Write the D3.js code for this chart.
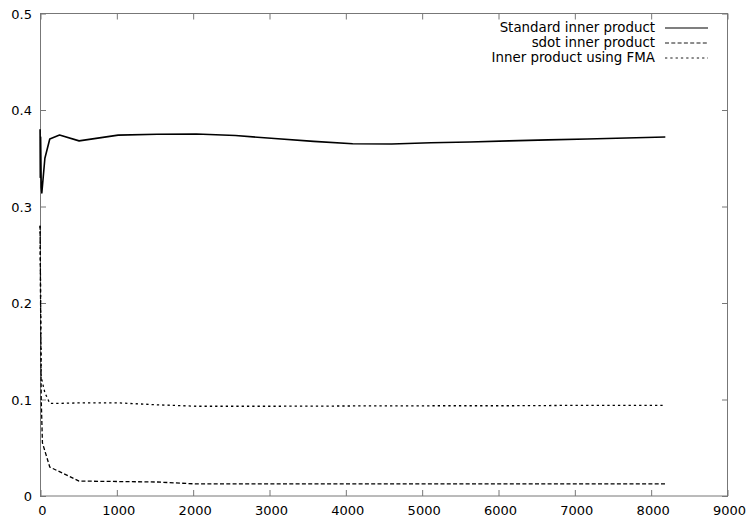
<!DOCTYPE html>
<html>
<head>
<meta charset="utf-8">
<script src="https://cdn.jsdelivr.net/npm/d3@7"></script>
<style>
  html, body { margin: 0; padding: 0; background: #fff; }
  svg { display: block; }
  text { font-family: "DejaVu Sans", "Liberation Sans", sans-serif; font-size: 13px; fill: #000; }
  .legend text { font-size: 13.4px; }
</style>
</head>
<body>
<svg></svg>
<script>
// vector length n vs. error, three inner product variants
const seriesNames = ["Standard inner product", "sdot inner product", "Inner product using FMA"];

const standardN = [1, 4, 8, 16, 24, 64, 128, 256, 512, 1024, 1536, 2048, 2560, 3072, 3584, 4096, 4608, 5120, 5632, 6144, 6656, 7168, 7680, 8192];
const standardV = [0.380, 0.330, 0.372, 0.320, 0.314, 0.350, 0.370, 0.374, 0.368, 0.374, 0.3748, 0.3751, 0.3735, 0.3705, 0.3675, 0.3650, 0.3648, 0.3660, 0.3668, 0.3680, 0.3690, 0.3700, 0.3710, 0.3720];

const sdotN = [1, 16, 32, 128, 512, 1024, 1536, 2048, 3072, 4096, 5120, 6144, 7168, 8192];
const sdotV = [0.280, 0.100, 0.055, 0.030, 0.0155, 0.015, 0.0145, 0.0125, 0.0125, 0.0125, 0.0125, 0.0125, 0.0125, 0.0125];

const fmaN = [1, 16, 64, 128, 256, 512, 1024, 1536, 2048, 3072, 4096, 5120, 6144, 7168, 8192];
const fmaV = [0.280, 0.123, 0.107, 0.096, 0.096, 0.0965, 0.0965, 0.0945, 0.0930, 0.0930, 0.0933, 0.0935, 0.0935, 0.0940, 0.0940];

const xTicks = [0, 1000, 2000, 3000, 4000, 5000, 6000, 7000, 8000, 9000];
const yTicks = [0, 0.1, 0.2, 0.3, 0.4, 0.5];

(function (d3) {
    const width = 748, height = 523;
    const mLeft = 40, mRight = 727, mTop = 13.5, mBottom = 496;

    const svg = d3.select('svg').attr('width', width).attr('height', height);

    const x = d3.scaleLinear().domain([0, 9000]).range([mLeft, mRight]);
    const y = d3.scaleLinear().domain([0, 0.5]).range([mBottom, mTop]);

    const axisColor = "#777";

    // frame
    svg.append("rect")
        .attr("x", mLeft + 0.5).attr("y", mTop)
        .attr("width", mRight - mLeft).attr("height", mBottom - mTop)
        .attr("fill", "none").attr("stroke", axisColor);

    function tickAxis(axis, tx, labels) {
        const g = svg.append("g").attr("transform", tx).call(axis);
        g.select(".domain").remove();
        g.attr("font-family", null).attr("font-size", null);
        g.selectAll(".tick line").attr("stroke", axisColor);
        if (!labels) g.selectAll(".tick text").remove();
        return g;
    }

    const gx = tickAxis(d3.axisBottom(x).tickValues(xTicks).tickSize(-6).tickFormat(d3.format("d")),
        `translate(0.5,${mBottom})`, true);
    gx.selectAll(".tick text").attr("y", 19).attr("dy", null).attr("dx", 1.5);
    tickAxis(d3.axisTop(x).tickValues(xTicks).tickSize(-6), `translate(0.5,${mTop})`, false);

    const gy = tickAxis(d3.axisLeft(y).tickValues(yTicks).tickSize(-6)
        .tickFormat(d => d === 0 ? "0" : d3.format(".1f")(d)),
        `translate(${mLeft},0)`, true);
    gy.selectAll(".tick text").attr("x", -8).attr("dy", "0.38em");
    tickAxis(d3.axisRight(y).tickValues(yTicks).tickSize(-6), `translate(${mRight + 1},0)`, false);

    // series
    const line = d3.line().x(d => x(d[0])).y(d => y(d[1]));
    const series = [
        { name: seriesNames[0], data: d3.zip(standardN, standardV), dash: null, w: 1.6 },
        { name: seriesNames[1], data: d3.zip(sdotN, sdotV), dash: "4,2.3", w: 1.3 },
        { name: seriesNames[2], data: d3.zip(fmaN, fmaV), dash: "2.3,3", w: 1.3 }
    ];

    svg.append("g").selectAll("path")
        .data(series)
        .join("path")
        .attr("d", d => line(d.data))
        .attr("fill", "none")
        .attr("stroke", "#000")
        .attr("stroke-width", d => d.w)
        .attr("stroke-dasharray", d => d.dash)
        .attr("stroke-linejoin", "round");

    // legend
    const legend = svg.append("g").attr("class", "legend").selectAll("g")
        .data(series)
        .join("g")
        .attr("transform", (d, i) => `translate(0,${31.5 + i * 15})`);
    legend.append("text")
        .attr("x", 655).attr("text-anchor", "end")
        .text(d => d.name);
    legend.append("line")
        .attr("x1", 665).attr("x2", 708)
        .attr("y1", -3.5).attr("y2", -3.5)
        .attr("stroke", "#000")
        .attr("stroke-width", d => d.w - 0.4)
        .attr("stroke-dasharray", d => d.dash);
})(d3);
</script>
</body>
</html>
